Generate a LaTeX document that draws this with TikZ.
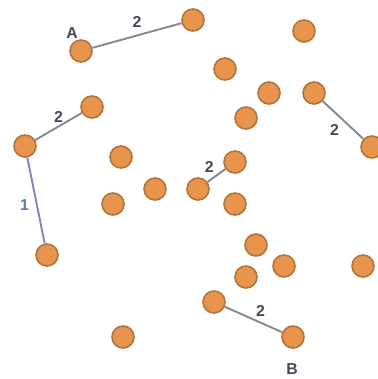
\documentclass[tikz,border=0pt]{standalone}
\usepackage{fontspec}
\setsansfont{Liberation Sans}
\usetikzlibrary{positioning}
\definecolor{dotfill}{RGB}{232,148,76}
\definecolor{dotline}{RGB}{176,116,60}
\definecolor{edgegray}{RGB}{136,136,146}
\definecolor{edgeblue}{RGB}{134,132,186}
\definecolor{onecolor}{RGB}{96,120,176}
\definecolor{lblgray}{RGB}{70,72,88}

\begin{document}
\begin{tikzpicture}[x=0.02cm,y=-0.02cm,
  dot/.style={draw=dotline,fill=dotfill,circle,line width=0.9pt,minimum size=0.44cm,inner sep=0pt},
  link/.style={draw=edgegray,line width=1.1pt},
  wlabel/.style={font=\sffamily\bfseries\small,text=lblgray,inner sep=1pt},
  endlabel/.style={font=\sffamily\bfseries\small,text=lblgray,inner sep=1pt}]
\useasboundingbox (0,0) rectangle (378,379);
% nodes
\node[dot] (A) at (81,51) {};
\node[dot] (t1) at (193,20) {};
\node[dot] (t2) at (304,31) {};
\node[dot] (t3) at (225,69) {};
\node[dot] (t4) at (269,93) {};
\node[dot] (r1) at (314,93) {};
\node[dot] (t5) at (246,118) {};
\node[dot] (l1) at (92,107) {};
\node[dot] (l2) at (25,146) {};
\node[dot] (m1) at (121,157) {};
\node[dot] (r2) at (372,147) {};
\node[dot] (m2) at (155,189) {};
\node[dot] (c2) at (235,162) {};
\node[dot] (c1) at (198,189) {};
\node[dot] (m3) at (113,204) {};
\node[dot] (c3) at (235,204) {};
\node[dot] (l3) at (47,255) {};
\node[dot] (s1) at (256,245) {};
\node[dot] (s2) at (284,266) {};
\node[dot] (s3) at (246,277) {};
\node[dot] (s4) at (363,266) {};
\node[dot] (b1) at (214,302) {};
\node[dot] (B) at (293,337) {};
\node[dot] (m4) at (123,337) {};
% end labels
\node[endlabel] at (72,33) {A};
\node[endlabel] at (292,369) {B};
% edges
\draw[link] (A) -- node[wlabel,above=3pt] {2} (t1);
\draw[link] (l1) -- node[wlabel,above=1pt] {2} (l2);
\draw[link,draw=edgeblue] (l2) -- node[wlabel,left=3pt,pos=0.55,text=onecolor] {1} (l3);
\draw[link] (r1) -- node[wlabel,below left=1pt] {2} (r2);
\draw[link] (c1) -- node[wlabel,above left=0pt] {2} (c2);
\draw[link] (b1) -- node[wlabel,above right=0pt] {2} (B);
\end{tikzpicture}
\end{document}
